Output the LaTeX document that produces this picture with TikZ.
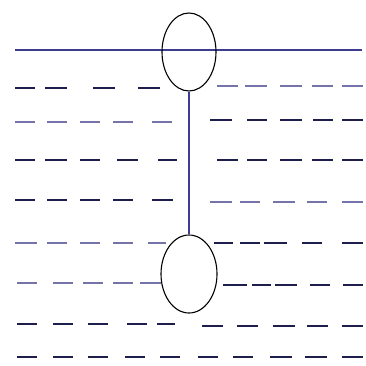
\documentclass[tikz,border=0pt]{standalone}
\usetikzlibrary{shapes.geometric}
\definecolor{navy}{HTML}{3C3C90}
\definecolor{darkdash}{HTML}{1E1E4C}
\definecolor{lightdash}{HTML}{7474AA}
\begin{document}
\begin{tikzpicture}[x=1pt,y=-1pt,
  ring/.style={draw=black,line width=1.1pt,ellipse,inner sep=0pt},
  dk/.style={draw=darkdash,line width=2.8pt},
  lt/.style={draw=lightdash,line width=2.8pt}]
\useasboundingbox (0,0) rectangle (365,366);
% top solid line
\draw[navy,line width=2pt] (15,50) -- (362,50);
% floats
\node[ring,minimum width=54pt,minimum height=78pt] (top) at (189,52) {};
\node[ring,minimum width=56pt,minimum height=78pt] (bot) at (189,274) {};
\draw[navy,line width=1.8pt] (top.south) -- (bot.north);
% dashed rows
\foreach \a/\b in {15/35,45/67,93/115,138/160} \draw[dk] (\a,88) -- (\b,88);
\foreach \a/\b in {217/238,245/267,280/302,312/333,342/363} \draw[lt] (\a,86) -- (\b,86);
\foreach \a/\b in {15/35,47/67,80/100,113/133,152/172} \draw[lt] (\a,122) -- (\b,122);
\foreach \a/\b in {210/232,247/267,280/302,313/333,342/363} \draw[dk] (\a,120) -- (\b,120);
\foreach \a/\b in {15/35,45/67,80/100,117/138,158/177} \draw[dk] (\a,160) -- (\b,160);
\foreach \a/\b in {217/238,247/267,280/302,312/333,342/363} \draw[dk] (\a,160) -- (\b,160);
\foreach \a/\b in {15/35,47/67,80/100,113/133,152/173} \draw[dk] (\a,200) -- (\b,200);
\foreach \a/\b in {210/232,240/260,273/295,307/327,342/363} \draw[lt] (\a,202) -- (\b,202);
\foreach \a/\b in {15/37,47/67,80/100,113/133,148/166} \draw[lt] (\a,243) -- (\b,243);
\foreach \a/\b in {214/233,240/260,264/287,302/322,342/363} \draw[dk] (\a,243) -- (\b,243);
\foreach \a/\b in {17/37,53/73,83/103,113/133,140/161} \draw[lt] (\a,283) -- (\b,283);
\foreach \a/\b in {223/247,252/271,275/297,310/330,343/363} \draw[dk] (\a,285) -- (\b,285);
\foreach \a/\b in {17/37,53/73,88/108,127/147,157/175} \draw[dk] (\a,324) -- (\b,324);
\foreach \a/\b in {202/223,237/258,273/295,307/328,342/363} \draw[dk] (\a,326) -- (\b,326);
\foreach \a/\b in {17/37,53/73,88/108,125/145,160/180,198/218,233/253,270/292,305/327,342/363} \draw[dk] (\a,357) -- (\b,357);
\end{tikzpicture}
\end{document}
